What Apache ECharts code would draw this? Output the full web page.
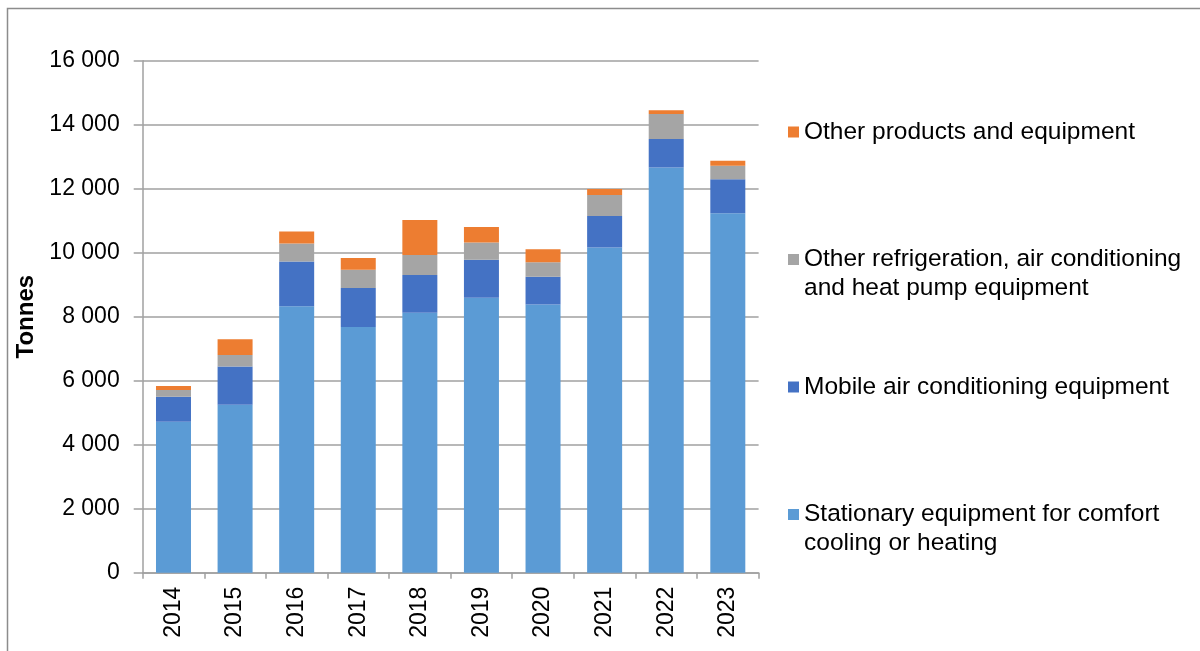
<!DOCTYPE html>
<html>
<head>
<meta charset="utf-8">
<script src="https://cdn.jsdelivr.net/npm/echarts@6/dist/echarts.min.js"></script>
<style>
  html, body { margin: 0; padding: 0; background: #fff; }
  #main { width: 1200px; height: 651px; }
</style>
</head>
<body>
<div id="main"></div>
<script>
// data
var years = ['2014', '2015', '2016', '2017', '2018', '2019', '2020', '2021', '2022', '2023'];
var stationary = [4720, 5250, 8330, 7675, 8120, 8590, 8385, 10160, 12660, 11230];
var mobile = [780, 1190, 1395, 1225, 1185, 1190, 865, 985, 895, 1065];
var otherRefrig = [210, 365, 565, 570, 625, 535, 450, 655, 780, 420];
var otherProducts = [125, 490, 375, 365, 1095, 490, 410, 190, 115, 155];
var yTicks = [0, 2000, 4000, 6000, 8000, 10000, 12000, 14000, 16000];

var names = {
  stat: 'Stationary equipment for comfort cooling or heating',
  mob: 'Mobile air conditioning equipment',
  ref: 'Other refrigeration, air conditioning and heat pump equipment',
  oth: 'Other products and equipment'
};
// legend text (leading blank line keeps the marker beside the first line)
var legendText = {};
legendText[names.oth] = 'Other products and equipment';
legendText[names.ref] = '\nOther refrigeration, air conditioning\nand heat pump equipment';
legendText[names.mob] = 'Mobile air conditioning equipment';
legendText[names.stat] = '\nStationary equipment for comfort\ncooling or heating';

var font = 'Liberation Sans, Arial, sans-serif';
var myChart = echarts.init(document.getElementById('main'));

function fmt(v) {
  var s = String(v);
  if (s.length > 3) s = s.slice(0, s.length - 3) + ' ' + s.slice(-3);
  return s;
}

function barSeries(name, data, color) {
  return {
    name: name,
    type: 'bar',
    stack: 'total',
    barWidth: 35,
    data: data,
    itemStyle: { color: color },
    emphasis: { disabled: true }
  };
}

var option = {
  animation: false,
  backgroundColor: '#fff',
  textStyle: { fontFamily: font },
  graphic: [{
    type: 'rect',
    left: 5, top: 6,
    shape: { width: 1250, height: 700 },
    style: { fill: 'none', stroke: '#8c8c8c', lineWidth: 1.5 },
    silent: true
  }],
  grid: { left: 142.7, right: 441.4, top: 60.7, bottom: 78.3 },
  legend: {
    orient: 'vertical',
    left: 783,
    top: 112.5,
    itemWidth: 11,
    itemHeight: 11,
    itemGap: 69.5,
    icon: 'rect',
    selectedMode: false,
    data: [names.oth, names.ref, names.mob, names.stat],
    formatter: function (n) { return legendText[n]; },
    textStyle: { fontSize: 24.5, color: '#000', lineHeight: 29, fontFamily: font }
  },
  xAxis: {
    type: 'category',
    data: years,
    axisLine: { lineStyle: { color: '#a0a0a0', width: 1.5 } },
    axisTick: { show: true, length: 6, lineStyle: { color: '#a0a0a0', width: 1.5 } },
    axisLabel: { rotate: 90, margin: 14, fontSize: 23, color: '#000', fontFamily: font }
  },
  yAxis: {
    type: 'value',
    min: 0,
    max: 16000,
    interval: 2000,
    name: 'Tonnes',
    nameLocation: 'middle',
    nameRotate: 90,
    nameGap: 100,
    nameTextStyle: { fontSize: 24, fontWeight: 'bold', color: '#000', fontFamily: font },
    axisLine: { show: true, lineStyle: { color: '#a0a0a0', width: 1.5 } },
    axisTick: { show: true, length: 9, lineStyle: { color: '#a0a0a0', width: 1.5 } },
    axisLabel: {
      margin: 23, fontSize: 23, color: '#000', fontFamily: font,
      formatter: function (v) { return yTicks.indexOf(v) >= 0 ? fmt(v) : ''; }
    },
    splitLine: { lineStyle: { color: '#a0a0a0', width: 1.5 } }
  },
  series: [
    barSeries(names.stat, stationary, '#5B9BD5'),
    barSeries(names.mob, mobile, '#4472C4'),
    barSeries(names.ref, otherRefrig, '#A5A5A5'),
    barSeries(names.oth, otherProducts, '#ED7D31')
  ]
};

myChart.setOption(option);
</script>
</body>
</html>
